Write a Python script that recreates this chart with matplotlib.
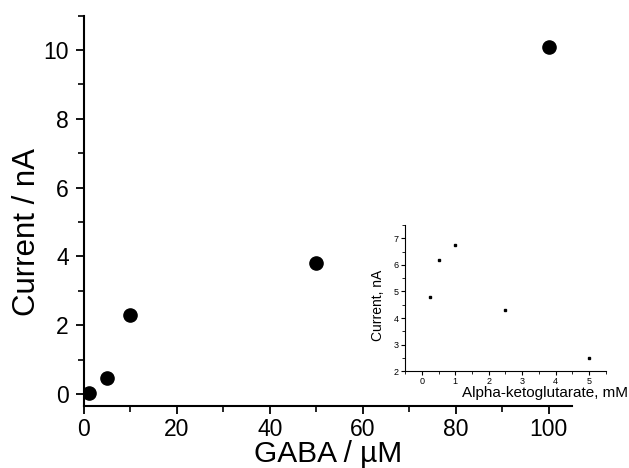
import matplotlib
matplotlib.use('Agg')
import matplotlib.pyplot as plt
from matplotlib.ticker import MultipleLocator

plt.rcParams['font.family'] = ['Liberation Sans', 'DejaVu Sans']

# main data: GABA concentration vs current
gaba_uM = [1, 5, 10, 50, 100]
current_nA = [0.02, 0.45, 2.3, 3.8, 10.1]

# inset: alpha-ketoglutarate concentration vs current
akg_mM = [0.25, 0.5, 1.0, 2.5, 5.0]
akg_current = [4.8, 6.2, 6.75, 4.3, 2.5]

fig = plt.figure(figsize=(6.29, 4.68), dpi=100)
ax = fig.add_axes([0.1335, 0.1325, 0.776, 0.834])
ax.plot(gaba_uM, current_nA, 'o', color='black', markersize=9.5)
ax.set_xlim(0, 105)
ax.set_ylim(-0.35, 11)
ax.xaxis.set_major_locator(MultipleLocator(20))
ax.xaxis.set_minor_locator(MultipleLocator(10))
ax.yaxis.set_major_locator(MultipleLocator(2))
ax.yaxis.set_minor_locator(MultipleLocator(1))
for s in ['top', 'right']:
    ax.spines[s].set_visible(False)
for s in ['left', 'bottom']:
    ax.spines[s].set_linewidth(1.5)
ax.tick_params(which='major', length=6, width=1.3, labelsize=16.5, direction='out')
ax.tick_params(axis='x', which='major', pad=3)
ax.tick_params(axis='y', which='major', pad=5)
ax.tick_params(which='minor', length=4, width=1.2, direction='out')
ax.set_xlabel('GABA / µM', fontsize=21.5, va='center')
ax.xaxis.set_label_coords(0.5, -0.124)
ax.set_ylabel('Current / nA', fontsize=22.5)
ax.yaxis.set_label_coords(-0.085, 0.446)

# inset
ins = fig.add_axes([0.644, 0.207, 0.319, 0.312])
ins.plot(akg_mM, akg_current, 's', color='black', markersize=2)
ins.set_xlim(-0.5, 5.5)
ins.set_ylim(2, 7.5)
ins.xaxis.set_major_locator(MultipleLocator(1))
ins.xaxis.set_minor_locator(MultipleLocator(0.5))
ins.yaxis.set_major_locator(MultipleLocator(1))
ins.yaxis.set_minor_locator(MultipleLocator(0.5))
for s in ['top', 'right']:
    ins.spines[s].set_visible(False)
ins.tick_params(which='major', length=3, width=0.8, labelsize=6.5, pad=1.5)
ins.tick_params(which='minor', length=2, width=0.6)
ins.set_xlabel('Alpha-ketoglutarate, mM', fontsize=11, ha='right', va='center')
ins.xaxis.set_label_coords(1.11, -0.15)
ins.set_ylabel('Current, nA', fontsize=10)
ins.yaxis.set_label_coords(-0.10, 0.45)

fig.savefig('out.png', dpi=100)
